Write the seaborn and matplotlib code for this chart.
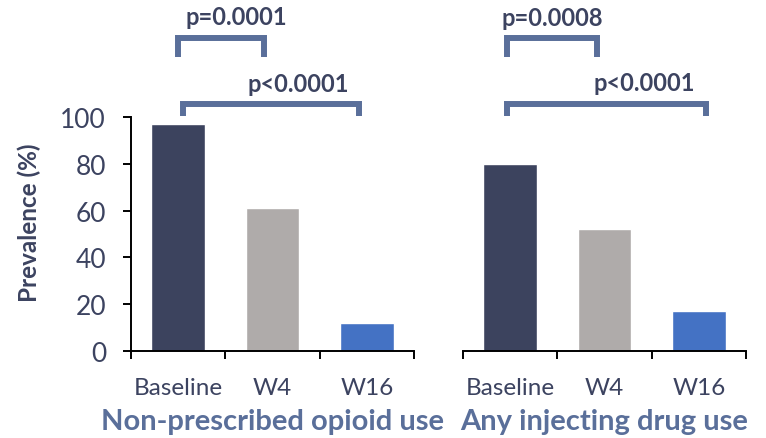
import matplotlib
matplotlib.use("Agg")
import matplotlib.pyplot as plt
import seaborn as sns
import pandas as pd

# ---- data ----
timepoints = ["Baseline", "W4", "W16"]
opioid_use = [97, 61, 12]
injecting_use = [80, 52, 17]
panel_titles = ["Non-prescribed opioid use", "Any injecting drug use"]
yticks = [0, 20, 40, 60, 80, 100]
pvals_top = ["p=0.0001", "p=0.0008"]
pvals_bottom = ["p<0.0001", "p<0.0001"]

# ---- style ----
sns.set_theme(style="white")
plt.rcParams["font.family"] = ["Lato", "DejaVu Sans"]

bar_colors = ["#3c435e", "#afabaa", "#4472c4"]
text_col = "#3c4360"
accent = "#5a6f9a"

fig = plt.figure(figsize=(7.66, 4.39), dpi=100)
W, H = 766, 439

def axes_rect(x0, x1, ytop, ybot):
    return [x0 / W, (H - ybot) / H, (x1 - x0) / W, (ybot - ytop) / H]

ax1 = fig.add_axes(axes_rect(131, 414, 118, 352))
ax2 = fig.add_axes(axes_rect(463, 746, 118, 352))

panels = [
    (ax1, opioid_use, panel_titles[0], pvals_top[0], pvals_bottom[0],
     (0.0, 0.91), (0.05, 1.92), (0.62, 139.7), (1.27, 111.1)),
    (ax2, injecting_use, panel_titles[1], pvals_top[1], pvals_bottom[1],
     (-0.03, 0.92), (-0.03, 2.08), (0.45, 139.5), (1.42, 111.5)),
]

for i, (ax, vals, title, ptop, pbot, br1, br2, t1, t2) in enumerate(panels):
    df = pd.DataFrame({"time": timepoints, "value": vals})
    sns.barplot(data=df, x="time", y="value", hue="time", palette=bar_colors,
                width=0.57, saturation=1, legend=False, ax=ax)
    ax.set_xlim(-0.5, 2.5)
    ax.set_ylim(0, 100)
    for s in ["top", "right"]:
        ax.spines[s].set_visible(False)
    ax.spines["bottom"].set_color("black")
    ax.spines["bottom"].set_linewidth(1.4)
    ax.set_xticks([0, 1, 2])
    ax.set_xticklabels(timepoints, fontsize=17.5, color=text_col)
    ax.set_xticks([-0.5, 0.5, 1.5, 2.5], minor=True)
    ax.tick_params(axis="x", which="major", length=0, pad=19)
    ax.tick_params(axis="x", which="minor", length=6, width=1.4, color="black",
                   direction="out", bottom=True)
    if i == 0:
        ax.spines["left"].set_color("black")
        ax.spines["left"].set_linewidth(1.4)
        ax.set_yticks(yticks)
        ax.set_yticklabels([str(v) for v in yticks], fontsize=19, color=text_col)
        ax.tick_params(axis="y", length=6, width=1.4, color="black",
                       direction="out", left=True, pad=12)
    else:
        ax.spines["left"].set_visible(False)
        ax.set_yticks([])
    ax.set_ylabel("")
    ax.set_xlabel(title, fontsize=21, fontweight="bold", color=accent, labelpad=7)

    # significance brackets
    ax.plot([br1[0], br1[0], br1[1], br1[1]], [125.6, 133.8, 133.8, 125.6],
            color=accent, lw=4.3, clip_on=False, solid_joinstyle="miter",
            solid_capstyle="butt")
    ax.plot([br2[0], br2[0], br2[1], br2[1]], [100.3, 105.6, 105.6, 100.3],
            color=accent, lw=4.3, clip_on=False, solid_joinstyle="miter",
            solid_capstyle="butt")
    ax.text(t1[0], t1[1], ptop, ha="center", va="baseline", fontsize=17,
            fontweight="bold", color=text_col, clip_on=False)
    ax.text(t2[0], t2[1], pbot, ha="center", va="baseline", fontsize=17,
            fontweight="bold", color=text_col, clip_on=False)

fig.text(29 / W, 1 - 223 / H, "Prevalence (%)", rotation=90, ha="center",
         va="center", fontsize=17.5, fontweight="bold", color=text_col)

fig.savefig("out.png", dpi=100)
